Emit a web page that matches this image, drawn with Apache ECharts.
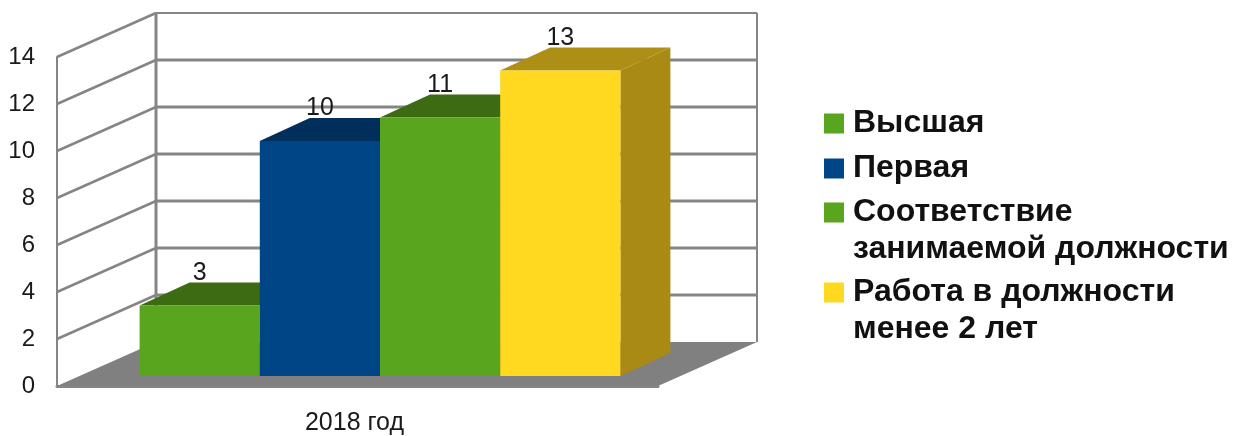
<!DOCTYPE html>
<html><head><meta charset="utf-8">
<style>html,body{margin:0;padding:0;background:#fff}#c{width:1237px;height:436px}</style>
<script src="https://cdn.jsdelivr.net/npm/echarts@6/dist/echarts.min.js"></script>
</head><body><div id="c"></div>
<script>
const categories = ['2018 год'];
const seriesNames = ['Высшая','Первая','Соответствие\nзанимаемой должности','Работа в должности\nменее 2 лет'];
const seriesValues = [3,10,11,13];
const yTicks = [0,2,4,6,8,10,12,14];
const frontColors = ['#5aa51e','#004586','#5aa51e','#ffd820'];
const topColors = ['#3c6b14','#002f5c','#3c6b14','#ad8f16'];
const sideColors = ['#3c6b14','#002f5c','#3c6b14','#a88a14'];
const legendTops = [105,150,194,274];

const WALL = {dx:99, dy:-44};
const BAR_OFF = {dx:22.5, dy:-10};
const BAR_DEPTH = {dx:50, dy:-23};
const GRAY = '#858585';
const FONT = '"Liberation Sans", Arial, sans-serif';
const LEGEND_LINE = 37;

function poly(points, fill){
  return {type:'polygon', shape:{points}, style:{fill, stroke:null}};
}
function line(a,b,w){
  return {type:'line', shape:{x1:a[0],y1:a[1],x2:b[0],y2:b[1]}, style:{stroke:GRAY,lineWidth:w}};
}
function renderWalls(params, api){
  const g = params.coordSys;
  const v = api.value(0);
  const y = api.coord([0,v])[1];
  const L = g.x, R = g.x+g.width;
  const kids = [];
  if (v === 0) {
    kids.push(poly([[L,y],[R,y],[R+WALL.dx,y+WALL.dy],[L+WALL.dx,y+WALL.dy]],'#808080'));
    kids.push(line([L+WALL.dx,y+WALL.dy],[L+WALL.dx,g.y+WALL.dy],3));
    kids.push(line([R+WALL.dx,y+WALL.dy],[R+WALL.dx,g.y+WALL.dy],2));
  } else {
    kids.push(line([L,y],[L+WALL.dx,y+WALL.dy],2.5));
    kids.push(line([L+WALL.dx,y+WALL.dy],[R+WALL.dx,y+WALL.dy], v===14?2:3));
  }
  return {type:'group', children:kids};
}
function renderBar(i){
  return function(params, api){
    const base = api.coord([0,0]);
    const top = api.coord([0,api.value(1)]);
    const band = api.size([1,0])[0];
    const w = band*0.8/seriesValues.length;
    const x0 = base[0]-band*0.4+i*w+BAR_OFF.dx, x1 = x0+w;
    const y0 = base[1]+BAR_OFF.dy, y1 = top[1]+BAR_OFF.dy;
    const d = BAR_DEPTH;
    return {type:'group', children:[
      poly([[x1,y0],[x1+d.dx,y0+d.dy],[x1+d.dx,y1+d.dy],[x1,y1]], sideColors[i]),
      poly([[x0,y1],[x1,y1],[x1+d.dx,y1+d.dy],[x0+d.dx,y1+d.dy]], topColors[i]),
      poly([[x0,y0],[x1,y0],[x1,y1],[x0,y1]], frontColors[i]),
      {type:'text', x:(x0+x1)/2, y:y1+d.dy+3, z2:50,
       style:{text:String(api.value(1)), fill:'#1a1a1a', font:'25px '+FONT, align:'center', verticalAlign:'bottom'}}
    ]};
  };
}
const option = {
  animation:false,
  backgroundColor:'#fff',
  grid:{left:57, top:57, width:601, height:330, containLabel:false},
  xAxis:{type:'category', data:categories,
    axisLine:{show:true,lineStyle:{color:GRAY,width:3}}, axisTick:{show:false},
    axisLabel:{color:'#1a1a1a',fontSize:25,fontFamily:FONT,margin:25,padding:[0,6,0,0]}},
  yAxis:{type:'value',min:0,max:14,interval:2,
    axisLine:{show:true,lineStyle:{color:GRAY,width:2}}, axisTick:{show:false},
    splitLine:{show:false},
    axisLabel:{color:'#1a1a1a',fontSize:24,fontFamily:FONT,margin:22}},
  legend: seriesNames.map((n,i)=>({
    data:[n], left:824, top:legendTops[i]-(n.includes('\n')?LEGEND_LINE:0), orient:'vertical',
    icon:'rect', itemWidth:20, itemHeight:20, itemGap:0, selectedMode:false,
    padding:0,
    textStyle:{color:'#111',fontSize:32,fontWeight:'bold',fontFamily:FONT,lineHeight:LEGEND_LINE,padding:[0,0,0,4]},
    formatter:(name)=> name.includes('\n') ? '\n'+name : name
  })),
  series:[
    {name:'walls', type:'custom', renderItem:renderWalls, silent:true, data:yTicks.map(v=>[v]), encode:{y:0}, z:1},
    ...seriesNames.map((n,i)=>({
      name:n, type:'custom', renderItem:renderBar(i), z:2+i,
      itemStyle:{color:frontColors[i]},
      data:[[0,seriesValues[i]]], encode:{x:0,y:1}
    }))
  ]
};
const chart = echarts.init(document.getElementById('c'),null,{renderer:'canvas'});
chart.setOption(option);
</script></body></html>
